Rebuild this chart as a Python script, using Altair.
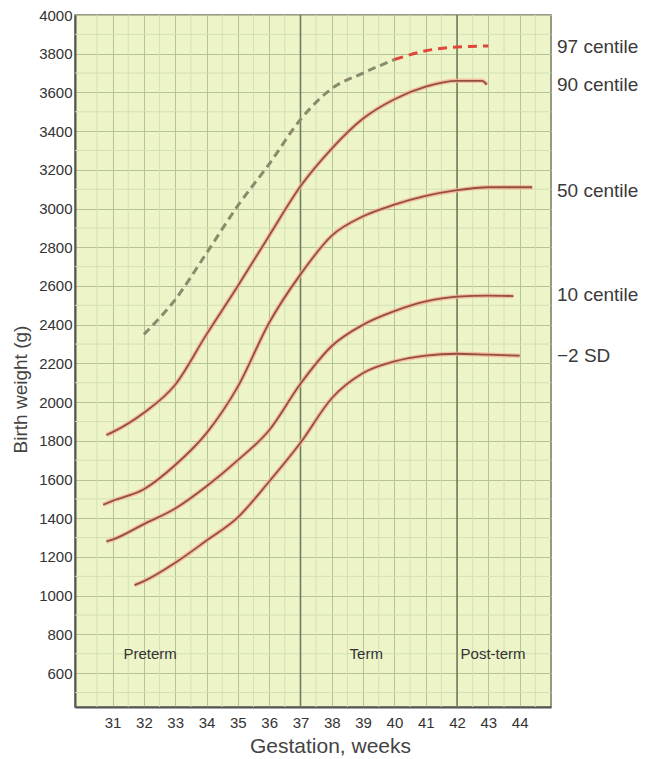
import altair as alt
import pandas as pd

# ---- data ----
wk_90 = [30.8, 31, 32, 33, 34, 35, 36, 37, 38, 39, 40, 41, 42, 42.8, 42.95]
bw_90 = [1830, 1845, 1945, 2090, 2350, 2600, 2860, 3115, 3310, 3465, 3565, 3630, 3660, 3660, 3640]

wk_50 = [30.7, 31, 32, 33, 34, 35, 36, 37, 38, 39, 40, 41, 42, 43, 44.4]
bw_50 = [1470, 1490, 1550, 1675, 1840, 2080, 2410, 2660, 2860, 2960, 3020, 3065, 3095, 3110, 3110]

wk_10 = [30.8, 31, 32, 33, 34, 35, 36, 37, 38, 39, 40, 41, 42, 43, 43.8]
bw_10 = [1280, 1290, 1370, 1450, 1565, 1700, 1855, 2095, 2290, 2400, 2470, 2520, 2545, 2550, 2548]

wk_sd = [31.7, 32, 33, 34, 35, 36, 37, 38, 39, 40, 41, 42, 43, 44]
bw_sd = [1055, 1075, 1170, 1285, 1405, 1590, 1790, 2020, 2150, 2210, 2240, 2250, 2245, 2240]

wk_97a = [32, 33, 34, 35, 36, 37, 38, 39, 40]
bw_97a = [2350, 2530, 2770, 3015, 3230, 3460, 3620, 3700, 3770]
wk_97b = [40, 41, 42, 43]
bw_97b = [3770, 3815, 3835, 3840]

label_text = ["97 centile", "90 centile", "50 centile", "10 centile", "\u22122 SD"]
label_bw = [3835, 3640, 3090, 2555, 2240]

region_text = ["Preterm", "Term", "Post-term"]
region_wk = [32.2, 39.1, 43.15]
region_bw = [700, 700, 700]

x_ticks = list(range(31, 45))
y_ticks = list(range(600, 4001, 200))
boundary_wk = [37, 42]

# ---- tables ----
rows = []
for name, wk, bw in [("90", wk_90, bw_90), ("50", wk_50, bw_50),
                     ("10", wk_10, bw_10), ("sd", wk_sd, bw_sd)]:
    for w, b in zip(wk, bw):
        rows.append({"series": name, "week": w, "weight": b})
df = pd.DataFrame(rows)
df97a = pd.DataFrame({"week": wk_97a, "weight": bw_97a})
df97b = pd.DataFrame({"week": wk_97b, "weight": bw_97b})
df_lab = pd.DataFrame({"label": label_text, "weight": label_bw})
df_reg = pd.DataFrame({"label": region_text, "week": region_wk, "weight": region_bw})
df_bound = pd.DataFrame({"week": boundary_wk})
df_minx = pd.DataFrame({"week": [w + 0.5 for w in range(30, 45)]})
df_miny = pd.DataFrame({"weight": list(range(500, 4000, 200))})

FONT = "Liberation Sans"
xs = alt.Scale(domain=[29.8, 45.0], nice=False, zero=False)
ys = alt.Scale(domain=[425, 4000], nice=False, zero=False)

x_axis = alt.Axis(values=x_ticks, title="Gestation, weeks", grid=True,
                  gridColor="#b4c398", gridWidth=1, tickSize=0, labelPadding=8,
                  labelFontSize=15, labelColor="#333333", labelFont=FONT,
                  titleFont=FONT, titleFontSize=21, titleFontWeight="normal",
                  titleColor="#444444", titleX=255, titleY=39, titleBaseline="middle",
                  domainColor="#555555", domainWidth=2)
y_axis = alt.Axis(values=y_ticks, format="d", title="Birth weight (g)", grid=True,
                  gridColor="#b4c398", gridWidth=1, tickSize=0, labelPadding=3,
                  labelFontSize=15, labelColor="#333333", labelFont=FONT,
                  titleFont=FONT, titleFontSize=19, titleFontWeight="normal",
                  titleColor="#444444", titleX=-55, titleY=374, titleBaseline="middle",
                  titleAngle=-90, domainColor="#555555", domainWidth=2)

def X(f="week"):
    return alt.X(f"{f}:Q", scale=xs, axis=x_axis)

def Y(f="weight"):
    return alt.Y(f"{f}:Q", scale=ys, axis=y_axis)

minor_x = alt.Chart(df_minx).mark_rule(color="#d3dfb6", strokeWidth=1).encode(x=X())
minor_y = alt.Chart(df_miny).mark_rule(color="#d3dfb6", strokeWidth=1).encode(y=Y())
bounds = alt.Chart(df_bound).mark_rule(color="#6f7d5e", strokeWidth=1.6).encode(x=X())

halo = alt.Chart(df).mark_line(color="#f5ae98", strokeWidth=4.5, opacity=0.75,
                               interpolate="monotone").encode(
    x=X(), y=Y(), detail="series:N")
core = alt.Chart(df).mark_line(color="#94503d", strokeWidth=1.8,
                               interpolate="monotone").encode(
    x=X(), y=Y(), detail="series:N")

d97a = alt.Chart(df97a).mark_line(color="#8a8a6c", strokeWidth=3, strokeDash=[8, 5],
                                  interpolate="monotone").encode(x=X(), y=Y())
d97b = alt.Chart(df97b).mark_line(color="#e0463a", strokeWidth=3, strokeDash=[9, 6],
                                  interpolate="monotone").encode(x=X(), y=Y())

labels = alt.Chart(df_lab).mark_text(align="left", baseline="middle", fontSize=19,
                                     font=FONT, color="#3a3a3a").encode(
    x=alt.value(482), y=Y(), text="label:N")
regions = alt.Chart(df_reg).mark_text(align="center", baseline="middle", fontSize=15,
                                      font=FONT, color="#333333").encode(
    x=X(), y=Y(), text="label:N")

chart = alt.layer(minor_x, minor_y, bounds, halo, core, d97a, d97b, regions, labels).properties(
    width=476, height=692,
    padding={"left": 67, "top": 7, "right": 95, "bottom": 52},
    autosize=alt.AutoSizeParams(type="none"),
    background="white",
).configure_view(fill="#edf5c8", stroke="#777766", strokeWidth=1.5)

chart.save("out.html", embed_options={"renderer": "svg", "actions": False})
